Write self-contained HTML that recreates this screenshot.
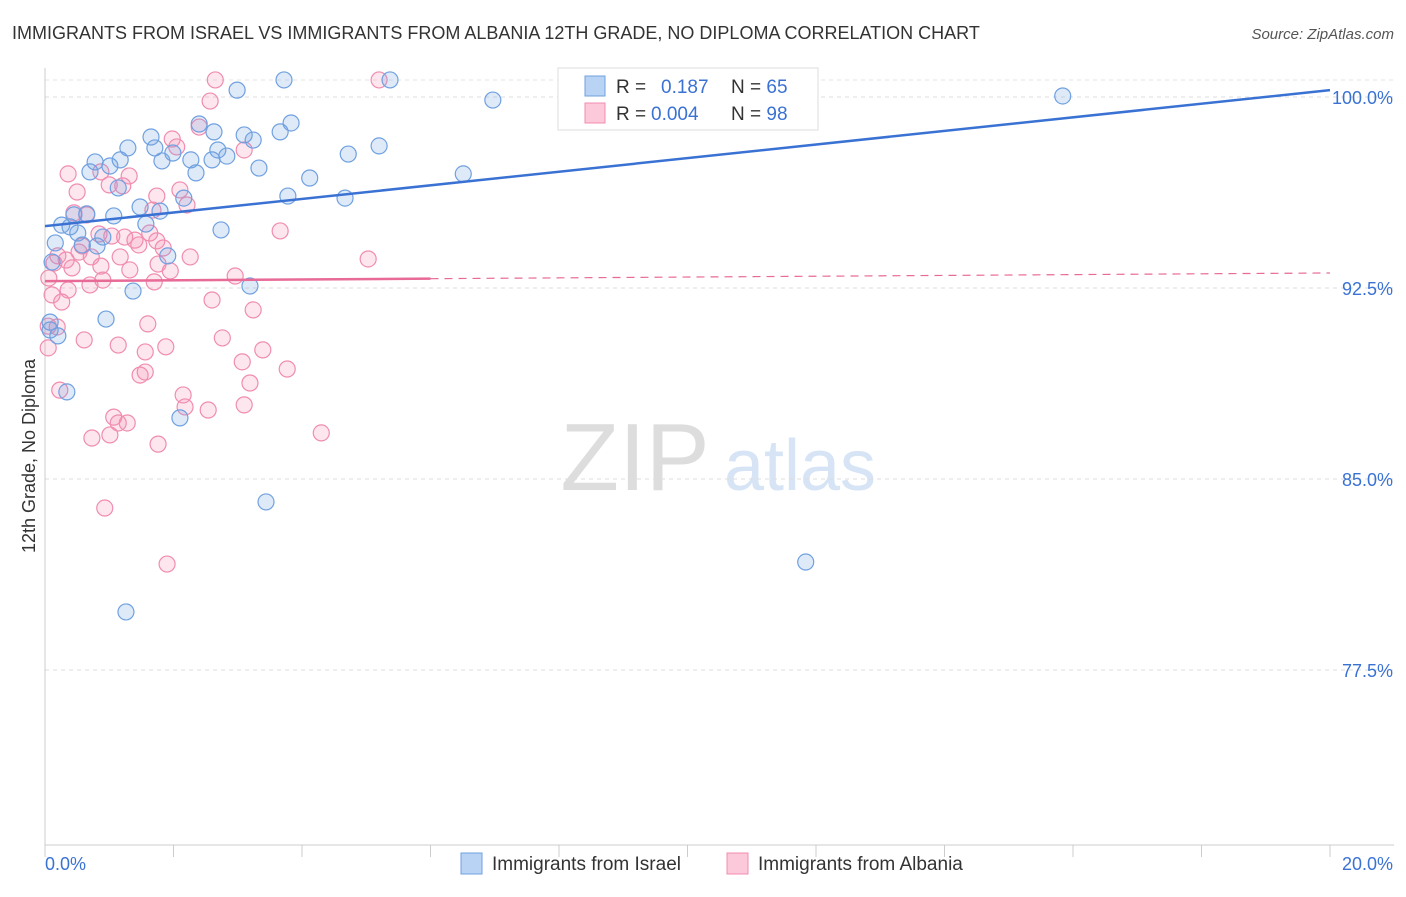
<!DOCTYPE html>
<html><head><meta charset="utf-8"><style>
body{margin:0;background:#fff;font-family:"Liberation Sans",sans-serif}
svg text{font-family:"Liberation Sans",sans-serif}
</style></head><body>
<svg width="1406" height="892" xmlns="http://www.w3.org/2000/svg">
<text x="12" y="39" font-size="18" fill="#333">IMMIGRANTS FROM ISRAEL VS IMMIGRANTS FROM ALBANIA 12TH GRADE, NO DIPLOMA CORRELATION CHART</text>
<text x="1394" y="39" font-size="15" fill="#555" font-style="italic" text-anchor="end">Source: ZipAtlas.com</text>
<g><text x="635" y="490" font-size="96" fill="#ddd" font-family="Liberation Serif" text-anchor="middle">ZIP</text><text x="800" y="490" font-size="72" fill="#d6e4f5" text-anchor="middle">atlas</text></g>
<g id="grid"></g><g id="axes"></g><g id="marks"></g>
<text transform="translate(35,456) rotate(-90)" font-size="18" fill="#333" text-anchor="middle">12th Grade, No Diploma</text>
<g>
<rect x="558" y="68" width="260" height="62" fill="#fff" stroke="#ddd"/>
<rect x="585" y="76" width="20" height="20" fill="#b9d3f5" stroke="#6fa0e0"/>
<rect x="585" y="103" width="20" height="20" fill="#fcc9da" stroke="#f08cb0"/>
<text x="616" y="93" font-size="19" fill="#333">R = <tspan fill="#3a72d4" x="661">0.187</tspan><tspan x="731" fill="#333">N = </tspan><tspan fill="#3a72d4">65</tspan></text>
<text x="616" y="120" font-size="19" fill="#333">R = <tspan fill="#3a72d4" x="651">0.004</tspan><tspan x="731" fill="#333">N = </tspan><tspan fill="#3a72d4">98</tspan></text>
</g>
<g>
<rect x="461" y="853" width="21" height="21" fill="#b9d3f5" stroke="#6fa0e0"/>
<text x="492" y="870" font-size="19" fill="#333">Immigrants from Israel</text>
<rect x="727" y="853" width="21" height="21" fill="#fcc9da" stroke="#f08cb0"/>
<text x="758" y="870" font-size="19" fill="#333">Immigrants from Albania</text>
</g>
</svg>
<script>
const xTicks=[0,20];
const yTicks=[100,92.5,85,77.5];
const israelX=[3.72,5.37,10.86,2.99,6.97,15.84,2.40,3.83,2.63,3.10,3.66,3.24,1.65,1.29,1.71,1.99,2.69,2.83,2.60,2.27,1.82,1.17,0.78,1.01,0.70,2.35,3.33,4.72,5.20,4.12,6.51,1.14,2.16,3.78,4.67,1.48,1.79,1.07,0.65,0.45,0.26,0.39,1.57,0.51,2.74,0.90,0.16,0.58,0.81,1.91,0.11,3.19,1.37,0.95,0.08,0.20,0.34,2.10,3.44,11.84,1.26,0.08];
const israelY=[100.67,100.67,100.67,100.27,99.88,100.04,98.94,98.98,98.63,98.51,98.63,98.31,98.43,98.00,98.00,97.80,97.92,97.68,97.53,97.53,97.49,97.53,97.45,97.29,97.06,97.02,97.21,97.76,98.08,96.82,96.98,96.43,96.03,96.11,96.03,95.68,95.52,95.33,95.41,95.37,94.97,94.90,95.01,94.66,94.78,94.50,94.27,94.19,94.15,93.76,93.52,92.58,92.38,91.28,91.16,90.62,88.42,87.40,84.10,81.74,79.78,90.85];
const albaniaX=[2.65,5.20,2.57,2.40,1.98,2.05,3.10,0.36,0.87,1.31,1.00,0.50,1.21,1.74,2.10,2.21,1.68,0.45,0.65,3.66,1.63,0.84,1.04,1.24,1.46,1.74,1.84,1.40,0.58,0.53,0.20,0.33,0.14,0.72,1.17,2.26,5.03,0.87,0.42,1.76,1.32,1.95,2.96,0.06,0.90,0.70,1.70,0.36,0.11,0.26,2.60,3.24,1.60,0.19,0.61,2.76,1.14,1.88,1.56,3.39,0.05,3.07,3.77,1.48,1.56,3.19,0.23,2.15,2.18,3.10,2.54,1.07,1.28,1.14,4.30,1.01,0.73,1.76,0.93,1.90,0.05];
const albaniaY=[100.67,100.67,99.84,98.82,98.35,98.04,97.92,96.98,97.06,96.90,96.55,96.27,96.51,96.11,96.35,95.76,95.56,95.45,95.37,94.74,94.66,94.62,94.54,94.50,94.19,94.35,94.07,94.38,94.15,93.91,93.76,93.60,93.48,93.72,93.72,93.72,93.64,93.36,93.29,93.44,93.21,93.17,92.97,92.89,92.81,92.62,92.74,92.42,92.23,91.95,92.03,91.64,91.09,90.97,90.46,90.54,90.26,90.19,89.99,90.07,90.15,89.60,89.32,89.08,89.20,88.77,88.49,88.30,87.83,87.91,87.71,87.43,87.20,87.20,86.81,86.73,86.61,86.37,83.86,81.66,91.0];
const israelTrend=[94.93,100.27];
const albaniaTrend=[92.77,93.09];
const ns='http://www.w3.org/2000/svg';
const X=v=>45+v/20*1285;
const Y=v=>97+(100-v)/7.5*191;
function mk(parent,tag,attrs){const e=document.createElementNS(ns,tag);for(const k in attrs)e.setAttribute(k,attrs[k]);document.getElementById(parent).appendChild(e);return e;}
yTicks.forEach(t=>{
 const l=mk('grid','line',{x1:45,x2:1394,y1:Y(t),y2:Y(t),stroke:'#ddd','stroke-dasharray':'4,4'});
 
 
 const tx=mk('grid','text',{x:1393,y:Y(t)+7,'font-size':18,fill:'#3a72d4','text-anchor':'end'});tx.textContent=t.toFixed(1)+'%';
 
 
});
mk('grid','line',{x1:45,x2:1394,y1:80,y2:80,stroke:'#e6e6e6','stroke-dasharray':'4,4'});
mk('axes','line',{x1:45,x2:45,y1:68,y2:845,stroke:'#ccc'});
mk('axes','line',{x1:45,x2:1394,y1:845,y2:845,stroke:'#ccc'});
for(let i=0;i<=10;i++){mk('axes','line',{x1:X(i*2),x2:X(i*2),y1:845,y2:857,stroke:'#ccc'});}
xTicks.forEach((t,i)=>{const tx=mk('axes','text',{x:i?1393:45,y:870,'font-size':18,fill:'#3a72d4','text-anchor':i?'end':'start'});tx.textContent=t.toFixed(1)+'%';
 
 });
albaniaX.forEach((v,i)=>{const c=mk('marks','circle',{cx:X(v),cy:Y(albaniaY[i]),r:8,fill:'rgba(244,143,177,0.22)',stroke:'#f08cb0','stroke-width':1.2});
 
 });
israelX.forEach((v,i)=>{const c=mk('marks','circle',{cx:X(v),cy:Y(israelY[i]),r:8,fill:'rgba(111,160,224,0.22)',stroke:'#6fa0e0','stroke-width':1.2});
 
 });
const bl=mk('marks','line',{x1:X(0),y1:Y(israelTrend[0]),x2:X(20),y2:Y(israelTrend[1]),stroke:'#3a72d4','stroke-width':2.5});


const mid=albaniaTrend[0]+(albaniaTrend[1]-albaniaTrend[0])*0.3;
const pl=mk('marks','line',{x1:X(0),y1:Y(albaniaTrend[0]),x2:X(6),y2:Y(mid),stroke:'#e86a97','stroke-width':2.5});


const pd=mk('marks','line',{x1:X(6),y1:Y(mid),x2:X(20),y2:Y(albaniaTrend[1]),stroke:'#e86a97','stroke-width':1.2,'stroke-dasharray':'8,6'});


</script>
</body></html>
